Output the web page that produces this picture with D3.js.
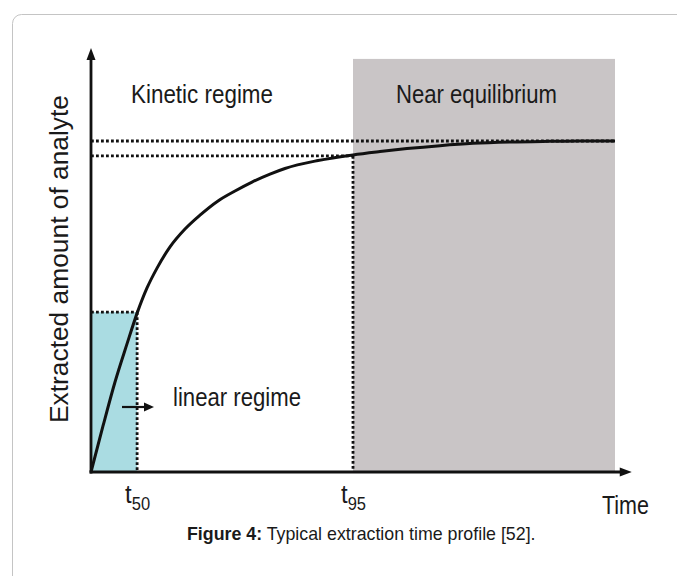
<!DOCTYPE html>
<html>
<head>
<meta charset="utf-8">
<script src="https://cdn.jsdelivr.net/npm/d3@7"></script>
<style>
  html, body { margin: 0; padding: 0; background: #fff; }
  svg { display: block; }
  text { font-family: "Liberation Sans", Arial, Helvetica, sans-serif; fill: #1a1a1a; }
</style>
</head>
<body>
<svg id="chart" width="677" height="576"></svg>
<script>
// ---- Data ----
// time (arbitrary units, 0..100) and extracted fraction (plateau = 1)
const curveTime   = [0, 2.29, 4.58, 6.87, 8.87, 10.69, 12.6, 15.08, 17.94, 20.8, 24.24, 27.48, 30.73, 34.16, 37.02, 43.32, 50.0, 55.15, 60.31, 66.6, 72.9, 79.96, 87.6, 93.32, 100];
const curveAmount = [0, 0.139, 0.272, 0.387, 0.483, 0.556, 0.616, 0.68, 0.734, 0.776, 0.819, 0.849, 0.876, 0.9, 0.917, 0.941, 0.958, 0.968, 0.977, 0.986, 0.993, 0.997, 0.999, 1.0, 1.0];

const markerNames   = ["t50", "t95"];
const markerTimes   = [8.8, 50.0];
const markerAmounts = [0.483, 0.955];
const plateauAmount = 1.0;

const regionLabels = ["Kinetic regime", "Near equilibrium", "linear regime"];
const equilibriumRange = [50.0, 100];   // grey band (time)
const equilibriumTop = 1.248;          // top of grey band (amount)
const axisMaxTime = 103.2;             // end of x arrow
const axisMaxAmount = 1.281;           // end of y arrow

const xLabel = "Time";
const yLabel = "Extracted amount of analyte";
const captionBold = "Figure 4:";
const captionText = " Typical extraction time profile [52].";

// ---- Scales ----
const x = d3.scaleLinear().domain([0, 100]).range([91, 615]);
const y = d3.scaleLinear().domain([0, 1]).range([472, 141]);

const svg = d3.select("#chart");

// frame
svg.append("rect")
  .attr("x", 12.5).attr("y", 14.5)
  .attr("width", 700).attr("height", 620)
  .attr("rx", 9).attr("ry", 9)
  .attr("fill", "#fff").attr("stroke", "#c4c4c4").attr("stroke-width", 1);

// grey "near equilibrium" band
svg.append("rect")
  .attr("x", x(equilibriumRange[0])).attr("y", y(equilibriumTop))
  .attr("width", x(equilibriumRange[1]) - x(equilibriumRange[0]))
  .attr("height", y(0) - y(equilibriumTop))
  .attr("fill", "#c9c5c6");

// blue linear-regime box
svg.append("rect")
  .attr("x", x(0)).attr("y", y(markerAmounts[0]))
  .attr("width", x(markerTimes[0]) - x(0))
  .attr("height", y(0) - y(markerAmounts[0]))
  .attr("fill", "#aadce2");

// dotted guides
const dotted = (x1, y1, x2, y2) => svg.append("line")
  .attr("x1", x1).attr("y1", y1).attr("x2", x2).attr("y2", y2)
  .attr("stroke", "#111").attr("stroke-width", 2.8)
  .attr("stroke-dasharray", "2.8,2.2");

dotted(x(0), y(plateauAmount), x(100), y(plateauAmount));
dotted(x(0), y(markerAmounts[1]), x(markerTimes[1]), y(markerAmounts[1]));
dotted(x(0), y(markerAmounts[0]), x(markerTimes[0]), y(markerAmounts[0]));
dotted(x(markerTimes[0]), y(markerAmounts[0]), x(markerTimes[0]), y(0));
dotted(x(markerTimes[1]), y(markerAmounts[1]), x(markerTimes[1]), y(0));

// curve
const pts = curveTime.map((t, i) => [t, curveAmount[i]]);
svg.append("path")
  .datum(pts)
  .attr("d", d3.line().x(d => x(d[0])).y(d => y(d[1])).curve(d3.curveMonotoneX))
  .attr("fill", "none").attr("stroke", "#111").attr("stroke-width", 3);

// axes lines with arrowheads
svg.append("line")
  .attr("x1", x(0)).attr("y1", y(0) + 1.4).attr("x2", x(0)).attr("y2", y(axisMaxAmount) + 8)
  .attr("stroke", "#111").attr("stroke-width", 2.8);
svg.append("line")
  .attr("x1", x(0) - 1.4).attr("y1", y(0)).attr("x2", x(axisMaxTime) - 8).attr("y2", y(0))
  .attr("stroke", "#111").attr("stroke-width", 2.8);

const ax = x(0), ay = y(axisMaxAmount);
svg.append("path")
  .attr("d", `M${ax},${ay} L${ax - 4.5},${ay + 12} L${ax + 4.5},${ay + 12} Z`)
  .attr("fill", "#111");
const bx = x(axisMaxTime), by = y(0);
svg.append("path")
  .attr("d", `M${bx},${by} L${bx - 12},${by - 4.5} L${bx - 12},${by + 4.5} Z`)
  .attr("fill", "#111");

// bottom axis for t50 / t95 labels
const axisG = svg.append("g")
  .attr("transform", `translate(0,${y(0)})`)
  .call(d3.axisBottom(x).tickValues(markerTimes).tickSize(0).tickFormat(""));
axisG.select(".domain").remove();
axisG.selectAll(".tick text").each(function(d, i) {
  const t = d3.select(this)
    .attr("y", 31).attr("dy", 0)
    .attr("text-anchor", "middle")
    .style("font-size", "26px")
    .attr("fill", "#1a1a1a")
    .attr("font-family", "'Liberation Sans', Arial, sans-serif");
  const name = markerNames[i];
  t.append("tspan").text(name[0]);
  t.append("tspan").attr("dy", 7).style("font-size", "18px").text(name.slice(1));
  t.attr("textLength", 25).attr("lengthAdjust", "spacingAndGlyphs");
});

// region labels
svg.append("text").attr("x", 131).attr("y", 103)
  .style("font-size", "25px").attr("textLength", 142).attr("lengthAdjust", "spacingAndGlyphs")
  .text(regionLabels[0]);
svg.append("text").attr("x", 396).attr("y", 103)
  .style("font-size", "25px").attr("textLength", 161).attr("lengthAdjust", "spacingAndGlyphs")
  .text(regionLabels[1]);
svg.append("text").attr("x", 173).attr("y", 406)
  .style("font-size", "25px").attr("textLength", 128).attr("lengthAdjust", "spacingAndGlyphs")
  .text(regionLabels[2]);

// small arrow pointing right
svg.append("line").attr("x1", 122).attr("y1", 407).attr("x2", 146).attr("y2", 407)
  .attr("stroke", "#111").attr("stroke-width", 2.2);
svg.append("path").attr("d", "M154,407 L144,402.5 L144,411.5 Z").attr("fill", "#111");

// axis titles
svg.append("text").attr("x", 602).attr("y", 514)
  .style("font-size", "25px").attr("textLength", 47).attr("lengthAdjust", "spacingAndGlyphs")
  .text(xLabel);
svg.append("text")
  .attr("transform", "translate(68,259) rotate(-90)")
  .attr("text-anchor", "middle")
  .style("font-size", "26px").attr("textLength", 328).attr("lengthAdjust", "spacingAndGlyphs")
  .text(yLabel);

// caption
const cap = svg.append("text").attr("x", 187).attr("y", 540).style("font-size", "17.8px");
cap.append("tspan").style("font-weight", "bold").text(captionBold);
cap.append("tspan").text(captionText);
</script>
</body>
</html>
